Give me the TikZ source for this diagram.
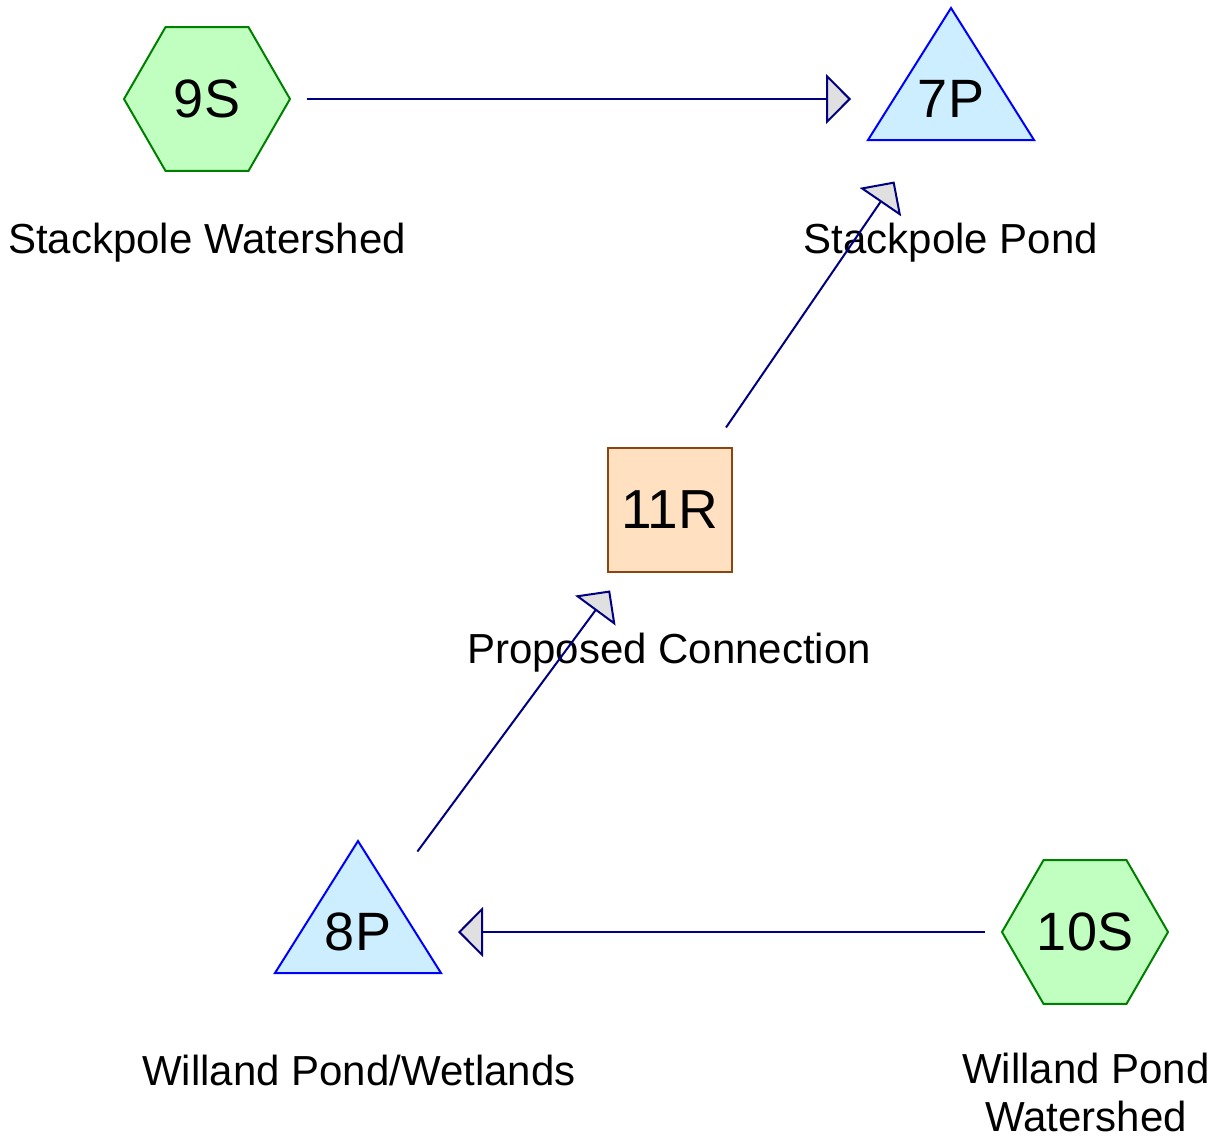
\documentclass[tikz,border=0pt]{standalone}
\usepackage{fontspec}
\setmainfont{Liberation Sans}
\usetikzlibrary{arrows.meta,positioning,shapes.geometric}
\definecolor{SubcatFill}{HTML}{C0FFC0}
\definecolor{SubcatLine}{HTML}{008000}
\definecolor{PondFill}{HTML}{CCEEFF}
\definecolor{PondLine}{HTML}{0000FF}
\definecolor{ReachFill}{HTML}{FFE0C0}
\definecolor{ReachLine}{HTML}{8B4513}
\definecolor{LinkLine}{HTML}{000080}
\definecolor{LinkHead}{HTML}{E0E0E0}

\tikzset{
  subcat/.style={regular polygon,regular polygon sides=6,minimum size=83pt,
    inner sep=0pt,fill=SubcatFill,draw=SubcatLine,line width=1pt,
    font=\fontsize{27}{30}\selectfont},
  reach/.style={rectangle,minimum size=62pt,inner sep=0pt,fill=ReachFill,
    draw=ReachLine,line width=1pt,font=\fontsize{27.5}{30}\selectfont},
  pondtext/.style={inner sep=0pt,font=\fontsize{27}{30}\selectfont},
  pondtri/.style={fill=PondFill,draw=PondLine,line width=1pt},
  caption/.style={anchor=base,align=center,font=\fontsize{21}{24}\selectfont},
  link/.style={draw=LinkLine,line width=1pt,shorten <=50pt,shorten >=50pt,
    -{Triangle[length=12.5pt,width=25pt,fill=LinkHead]}}
}
% pond triangle round its centre
\newcommand\pondshape[2]{%
  \filldraw[pondtri] (#1,#2) ++(0,-91) -- ++(83,132) -- ++(-166,0) -- cycle;}

\begin{document}
\begin{tikzpicture}[x=0.5pt,y=-0.5pt]
  \useasboundingbox (0,0) rectangle (1214,1141);

  % subcatchments
  \node[subcat] (n9S) at (207,99) {9S};
  \node[subcat] (n10S) at (1085,932) {10S};

  % ponds
  \pondshape{951}{99}
  \node[pondtext] (n7P) at (951,99) {7P};
  \pondshape{358}{932}
  \node[pondtext] (n8P) at (358,932) {8P};

  % reach
  \node[reach] (n11R) at (669.5,510) {11R};

  % captions
  \node[caption] (c9S) at (207,253) {Stackpole Watershed};
  \node[caption] (c7P) at (951,253) {Stackpole Pond};
  \node[caption] (c11R) at (669,663) {Proposed Connection};
  \node[caption] (c8P) at (359,1085) {Willand Pond/Wetlands};
  \node[caption,anchor=north] (c10S) at (1086,1046) {Willand Pond\\Watershed};

  % links
  \draw[link] (n9S.center) -- (n7P.center);
  \draw[link] (n11R.center) -- (n7P.center);
  \draw[link] (n8P.center) -- (n11R.center);
  \draw[link] (n10S.center) -- (n8P.center);
\end{tikzpicture}
\end{document}
